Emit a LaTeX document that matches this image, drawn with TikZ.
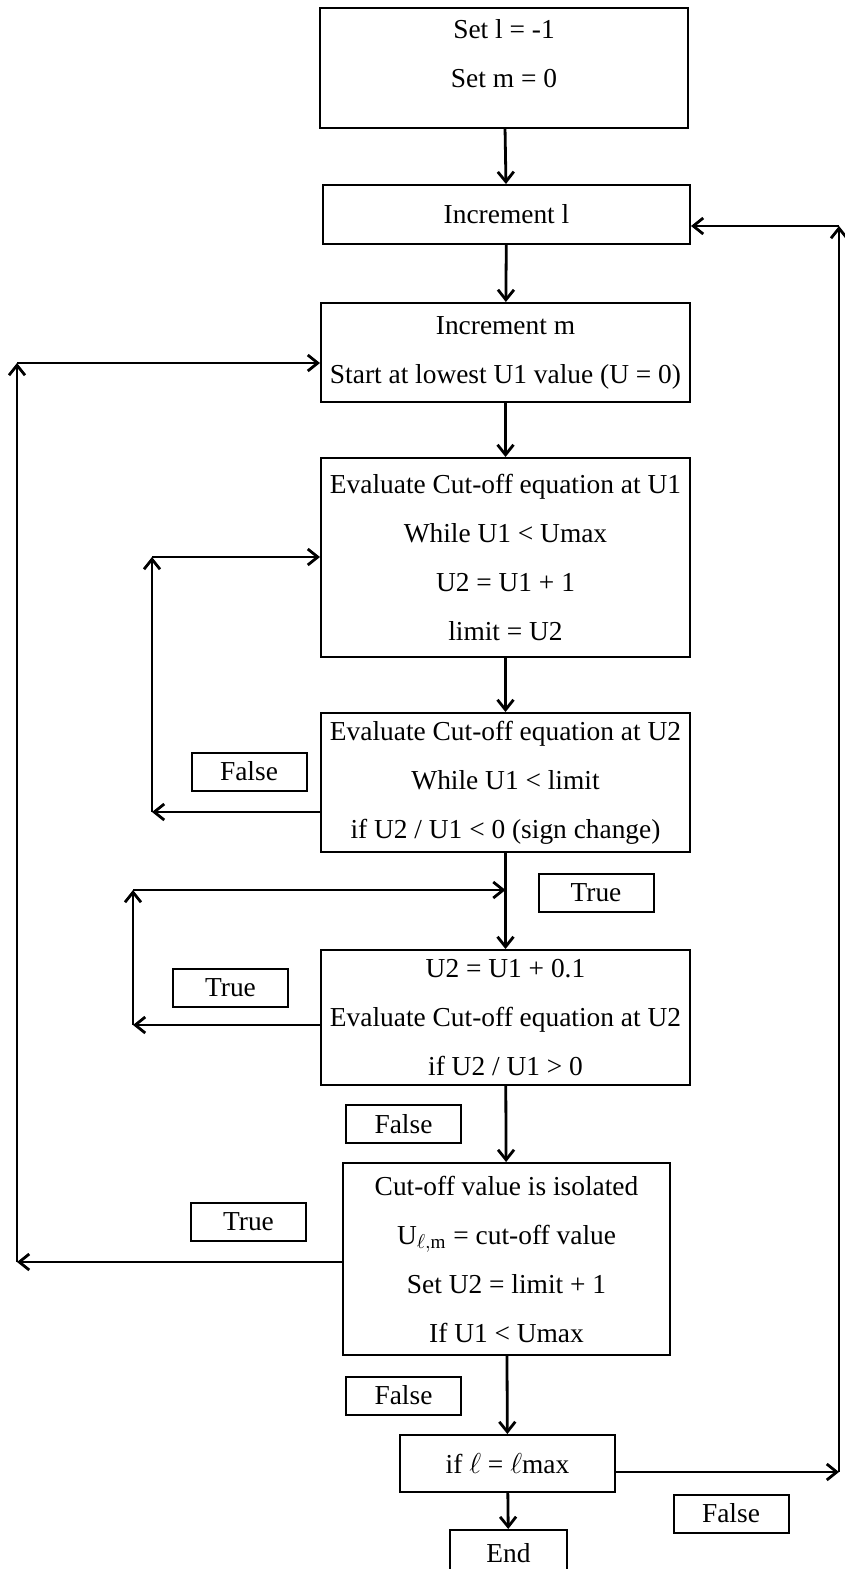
\documentclass[tikz,border=0pt]{standalone}
\usepackage{amsmath}
\usepackage{fontspec}
\setmainfont{Liberation Serif}
\usetikzlibrary{arrows.meta}

\begin{document}
\begin{tikzpicture}[x=0.5pt, y=-0.5pt,
    >={Straight Barb[length=5pt,width=8pt]},
    every node/.style={font=\fontsize{13.7}{24.5}\selectfont, align=center, inner sep=0pt},
    procbox/.style={draw, line width=1pt},
    flag/.style={draw, line width=1pt, minimum width=57.5pt, minimum height=19pt},
    link/.style={->, line width=1.4pt}]
    \useasboundingbox (0,0) rectangle (845,1569);

    % main column
    \node[procbox, minimum width=184pt, minimum height=60pt] (setlm) at (504,68) {Set l = -1\\Set m = 0\\[-10pt]\mbox{}};
    \node[procbox, minimum width=183.5pt, minimum height=29.5pt] (incl) at (506.5,214.5) {Increment l};
    \node[procbox, minimum width=184.5pt, minimum height=49.5pt] (incm) at (505.5,352.5) {Increment m\\Start at lowest U1 value (U = 0)};
    \node[procbox, minimum width=184.5pt, minimum height=99.5pt] (evalone) at (505.5,557.5) {Evaluate Cut-off equation at U1\\While U1 < Umax\\U2 = U1 + 1\\limit = U2};
    \node[procbox, minimum width=184.5pt, minimum height=69.5pt] (evaltwo) at (505.5,782.5) {Evaluate Cut-off equation at U2\\While U1 < limit\\if U2 / U1 < 0 (sign change)};
    \node[procbox, minimum width=184.5pt, minimum height=67.5pt] (refine) at (505.5,1017.5) {U2 = U1 + 0.1\\Evaluate Cut-off equation at U2\\if U2 / U1 > 0};
    \node[procbox, minimum width=163.5pt, minimum height=96pt] (isolate) at (506.5,1259) {Cut-off value is isolated\\U$_{\ell,\mathrm{m}}$ = cut-off value\\Set U2 = limit + 1\\If U1 < Umax};
    \node[procbox, minimum width=107.5pt, minimum height=28.5pt] (iflmax) at (507.5,1463.5) {if $\ell$ = $\ell$max};
    \node[procbox, minimum width=58.5pt, minimum height=23pt] (fin) at (508.5,1553) {End};

    % decision labels
    \node[flag] (falseA) at (249,771.5) {False};
    \node[flag] (trueA) at (596,892.5) {True};
    \node[flag] (trueB) at (230.5,987.5) {True};
    \node[flag] (falseB) at (403.5,1124) {False};
    \node[flag] (trueC) at (248.5,1221.5) {True};
    \node[flag] (falseC) at (403.5,1395.5) {False};
    \node[flag] (falseD) at (731,1513.5) {False};

    \draw[link] (setlm) -- (incl);
    \draw[link] (incl) -- (incm);
    \draw[link] (incm) -- (evalone);
    \draw[link] (evalone) -- (evaltwo);
    \draw[link] (evaltwo) -- (refine);
    \draw[link] (refine) -- (isolate);
    \draw[link] (isolate) -- (iflmax);
    \draw[link] (iflmax) -- (fin);

    % loop back to increment m
    \coordinate (outerbot) at (17,1262);
    \coordinate (outertop) at (17,363);
    \draw[link] (isolate.west |- outerbot) -- (outerbot);
    \draw[link] (outerbot) -- (outertop);
    \draw[link] (outertop) -- (outertop -| incm.west);

    % loop back to first evaluation
    \coordinate (falsebot) at (152,812);
    \coordinate (falsetop) at (152,557);
    \draw[link] (evaltwo.west |- falsebot) -- (falsebot);
    \draw[link] (falsebot) -- (falsetop);
    \draw[link] (falsetop) -- (falsetop -| evalone.west);

    % loop back over the refinement
    \coordinate (truebot) at (133,1025);
    \coordinate (truetop) at (133,890);
    \draw[link] (refine.west |- truebot) -- (truebot);
    \draw[link] (truebot) -- (truetop);
    \draw[link] (truetop) -- (truetop -| refine.north);

    % loop back to increment l
    \coordinate (rightbot) at (839,1472);
    \coordinate (righttop) at (839,226);
    \draw[link] (iflmax.east |- rightbot) -- (rightbot);
    \draw[link] (rightbot) -- (righttop);
    \draw[link] (righttop) -- (righttop -| incl.east);
\end{tikzpicture}
\end{document}
